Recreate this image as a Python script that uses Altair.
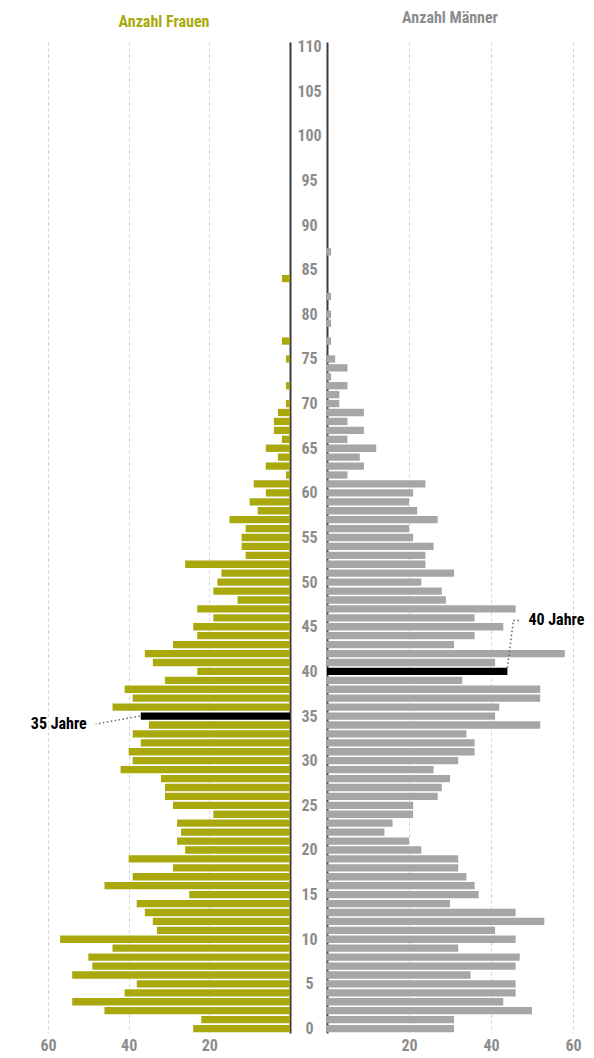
import altair as alt
import pandas as pd

# ---- data ----
ages = list(range(0, 88))
women = [24, 22, 46, 54, 41, 38, 54, 49, 50, 44,
         57, 33, 34, 36, 38, 25, 46, 39, 29, 40,
         26, 28, 27, 28, 19, 29, 31, 31, 32, 42,
         39, 40, 37, 39, 35, 37, 44, 39, 41, 31,
         23, 34, 36, 29, 23, 24, 19, 23, 13, 19,
         18, 17, 26, 11, 12, 12, 11, 15, 8, 10,
         6, 9, 1, 6, 3, 6, 2, 4, 4, 3,
         1, 0, 1, 0, 0, 1, 0, 2, 0, 0,
         0, 0, 0, 0, 2, 0, 0, 0]
men = [31, 31, 50, 43, 46, 46, 35, 46, 47, 32,
       46, 41, 53, 46, 30, 37, 36, 34, 32, 32,
       23, 20, 14, 16, 21, 21, 27, 28, 30, 26,
       32, 36, 36, 34, 52, 41, 42, 52, 52, 33,
       44, 41, 58, 31, 36, 43, 36, 46, 29, 28,
       23, 31, 24, 24, 26, 21, 20, 27, 22, 20,
       21, 24, 5, 9, 8, 12, 5, 9, 5, 9,
       3, 3, 5, 1, 5, 2, 0, 1, 0, 1,
       1, 0, 1, 0, 0, 0, 0, 1]
age_ticks = list(range(0, 111, 5))
x_ticks = [20, 40, 60]
highlight_women = 35
highlight_men = 40
label_women = "35 Jahre"
label_men = "40 Jahre"
title_women = "Anzahl Frauen"
title_men = "Anzahl Männer"

df = pd.DataFrame({"age": ages, "women": women, "men": men})

FONT = "Liberation Sans Narrow, Roboto Condensed, DejaVu Sans Condensed, Arial Narrow, sans-serif"
OLIVE = "#a9a90e"
GRAY_BAR = "#a6a6a6"
GRAY_TXT = "#8c8c8c"
DARK = "#3c3c3c"
GRID = "#d2d2d2"
DOT = "#666666"

H = 991
WL = 242
WR = 246

y_scale = alt.Scale(domain=[-0.5, 110.5], nice=False, zero=False)


def x_axis():
    return alt.Axis(values=x_ticks, title=None, grid=True, gridDash=[3, 3],
                    gridColor=GRID, gridWidth=1, domain=False, ticks=False,
                    labelFont=FONT, labelFontSize=16, labelFontWeight="bold",
                    labelColor=GRAY_TXT, labelPadding=4, labelFlush=False)


base = alt.Chart(df).transform_calculate(
    y0="datum.age - 0.41", y1="datum.age + 0.41"
)

# ---- women (left) ----
xl = alt.Scale(domain=[0, 60], reverse=True, nice=False, zero=True)
left_bars = base.mark_bar().encode(
    x=alt.X("women:Q", scale=xl, axis=x_axis()),
    x2=alt.datum(0),
    y=alt.Y("y0:Q", scale=y_scale,
            axis=alt.Axis(orient="right", labels=False, ticks=False, grid=False,
                          domain=True, domainColor=DARK, domainWidth=2, title=None)),
    y2="y1:Q",
    color=alt.condition(alt.datum.age == highlight_women, alt.value("black"), alt.value(OLIVE)),
)
left_ann = alt.Chart(df).transform_filter(alt.datum.age == highlight_women)
left_rule = left_ann.mark_rule(strokeDash=[1.5, 2.5], color=DOT, strokeWidth=1.5,
                               xOffset=-1, x2Offset=-45, y2Offset=8).encode(
    x=alt.X("women:Q", scale=xl),
    x2="women:Q",
    y=alt.Y("age:Q", scale=y_scale),
    y2="age:Q",
)
left_text = left_ann.mark_text(align="right", baseline="middle", dx=-54, dy=8,
                               font=FONT, fontSize=16, fontWeight="bold",
                               color="black").encode(
    x=alt.X("women:Q", scale=xl),
    y=alt.Y("age:Q", scale=y_scale),
    text=alt.value(label_women),
)
left = alt.layer(left_bars, left_rule, left_text).properties(
    width=WL, height=H,
    title=alt.TitleParams(text=title_women, color=OLIVE, font=FONT, fontSize=16,
                          fontWeight="bold", anchor="middle", frame="group",
                          offset=12, dx=-5),
)

# ---- men (right) ----
xr = alt.Scale(domain=[0, 60], nice=False, zero=True)
right_bars = base.mark_bar().encode(
    x=alt.X("men:Q", scale=xr, axis=x_axis()),
    x2=alt.datum(0),
    y=alt.Y("y0:Q", scale=y_scale,
            axis=alt.Axis(orient="left", values=age_ticks, labels=True, ticks=False,
                          tickSize=0, grid=False, domain=True, domainColor=DARK,
                          domainWidth=2, title=None, labelAlign="center",
                          labelBaseline="middle", labelPadding=18, labelFont=FONT,
                          labelFontSize=16, labelFontWeight="bold",
                          labelColor=GRAY_TXT)),
    y2="y1:Q",
    color=alt.condition(alt.datum.age == highlight_men, alt.value("black"), alt.value(GRAY_BAR)),
)
right_ann = alt.Chart(df).transform_filter(alt.datum.age == highlight_men)
right_seg1 = right_ann.mark_rule(strokeDash=[1.5, 2.5], color=DOT, strokeWidth=1.5,
                                 yOffset=-3.5, x2Offset=6, y2Offset=-51).encode(
    x=alt.X("men:Q", scale=xr),
    x2="men:Q",
    y=alt.Y("age:Q", scale=y_scale),
    y2="age:Q",
)
right_seg2 = right_ann.mark_rule(strokeDash=[1.5, 2.5], color=DOT, strokeWidth=1.5,
                                 xOffset=6, yOffset=-51, x2Offset=14, y2Offset=-51).encode(
    x=alt.X("men:Q", scale=xr),
    x2="men:Q",
    y=alt.Y("age:Q", scale=y_scale),
    y2="age:Q",
)
right_text = right_ann.mark_text(align="left", baseline="middle", dx=21, dy=-51,
                                 font=FONT, fontSize=16, fontWeight="bold",
                                 color="black").encode(
    x=alt.X("men:Q", scale=xr),
    y=alt.Y("age:Q", scale=y_scale),
    text=alt.value(label_men),
)
right = alt.layer(right_bars, right_seg1, right_seg2, right_text).properties(
    width=WR, height=H,
    title=alt.TitleParams(text=title_men, color=GRAY_TXT, font=FONT, fontSize=16,
                          fontWeight="bold", anchor="middle", frame="group", offset=12),
)

chart = alt.hconcat(left, right, spacing=37, bounds="flush").properties(
    padding={"left": 22, "top": 2, "right": 0, "bottom": 0},
).configure_view(stroke=None)

chart.save("out.html", embed_options={"renderer": "svg", "actions": False})
